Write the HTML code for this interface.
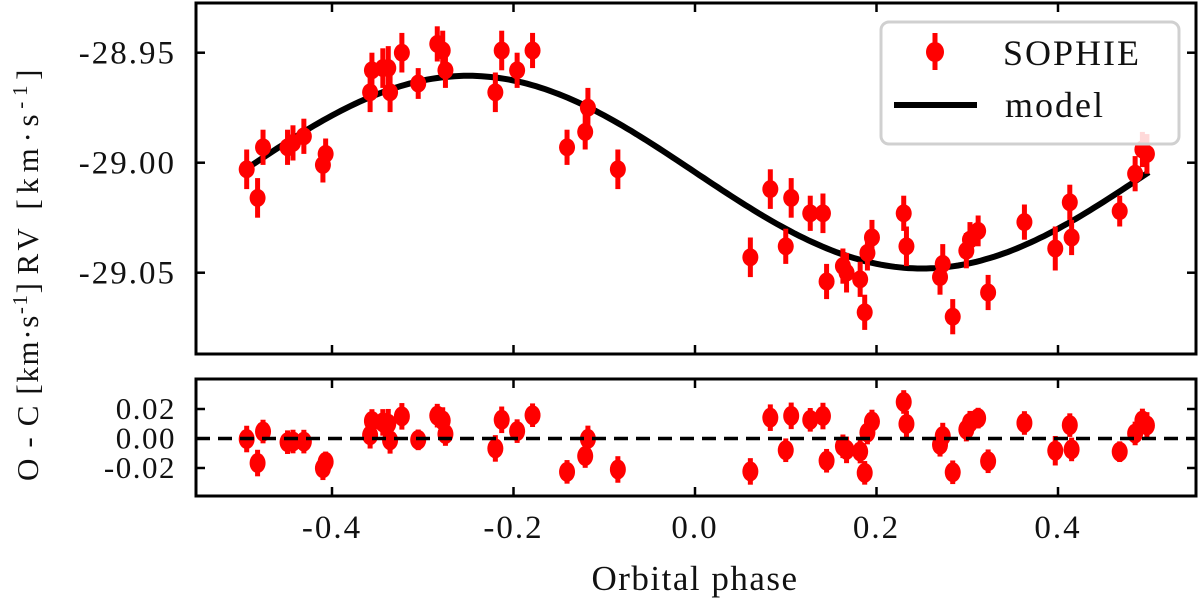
<!DOCTYPE html>
<html><head><meta charset="utf-8"><style>
body{margin:0;background:#fff}
svg{display:block}
text{font-family:"Liberation Serif",serif;fill:#111}
</style></head><body>
<svg id="chart" width="1200" height="604" viewBox="0 0 1200 604" xmlns="http://www.w3.org/2000/svg">
</svg>
<script>
const phases=[-0.494,-0.482,-0.476,-0.449,-0.443,-0.431,-0.410,-0.407,-0.358,-0.356,-0.344,-0.338,-0.336,-0.323,-0.305,-0.284,-0.278,-0.275,-0.220,-0.213,-0.196,-0.179,-0.141,-0.121,-0.118,-0.085,
0.061,0.083,0.100,0.106,0.127,0.141,0.145,0.163,0.167,0.182,0.187,0.190,0.195,0.230,0.233,0.270,0.273,0.284,0.299,0.303,0.312,0.323,0.363,0.397,0.413,0.415,0.468,0.485,0.493,0.498];
const rvValues=[-29.003,-29.016,-28.993,-28.993,-28.991,-28.988,-29.001,-28.996,-28.968,-28.958,-28.957,-28.957,-28.968,-28.950,-28.964,-28.946,-28.949,-28.958,-28.968,-28.949,-28.958,-28.949,-28.993,-28.986,-28.975,-29.003,
-29.043,-29.012,-29.038,-29.016,-29.023,-29.023,-29.054,-29.047,-29.050,-29.053,-29.068,-29.041,-29.034,-29.023,-29.038,-29.052,-29.046,-29.070,-29.040,-29.035,-29.031,-29.059,-29.027,-29.039,-29.018,-29.034,-29.022,-29.005,-28.994,-28.996];
const rvErrors=[0.009,0.009,0.008,0.008,0.008,0.008,0.008,0.007,0.009,0.008,0.009,0.010,0.009,0.009,0.007,0.008,0.009,0.008,0.009,0.009,0.008,0.008,0.008,0.008,0.009,0.009,
0.009,0.009,0.008,0.009,0.008,0.009,0.008,0.008,0.009,0.008,0.008,0.008,0.008,0.008,0.009,0.008,0.009,0.008,0.008,0.008,0.007,0.008,0.008,0.010,0.008,0.008,0.007,0.008,0.008,0.009];
const modelMean=-29.0043, modelK=0.0438;
const xTicks=[-0.4,-0.2,0.0,0.2,0.4];
const xTickLabels=["-0.4","-0.2","0.0","0.2","0.4"];
const yTicks=[-28.95,-29.00,-29.05];
const yTickLabels=["-28.95","-29.00","-29.05"];
const rTicks=[0.02,0.00,-0.02];
const rTickLabels=["0.02","0.00","-0.02"];

const NS="http://www.w3.org/2000/svg";
const svg=document.getElementById('chart');
function mk(tag,attrs,parent){const e=document.createElementNS(NS,tag);for(const k in attrs)e.setAttribute(k,attrs[k]);(parent||svg).appendChild(e);return e;}
const L=196,R=1196,T1=3,B1=354,T2=379,B2=496;
const xS=p=>695+p*907.5;
const yS=v=>162.7-(v+29.0)*2200;
const rS=v=>438.5-v*1475;
const model=p=>modelMean-modelK*Math.sin(2*Math.PI*p);

let d="";for(let i=0;i<=200;i++){const p=-0.5+i/200;d+=(i?"L":"M")+xS(p).toFixed(1)+","+yS(model(p)).toFixed(1);}
const curve=mk('path',{d:d,fill:'none',stroke:'#000','stroke-width':6});



const gTop=mk('g',{});


const gBot=mk('g',{});


phases.forEach((p,i)=>{
  const x=xS(p),v=rvValues[i],e=rvErrors[i];
  const b=mk('line',{x1:x,x2:x,y1:yS(v+e),y2:yS(v-e),stroke:'#f00','stroke-width':5},gTop);
  
  
  const c=mk('ellipse',{cx:x,cy:yS(v),rx:8,ry:9,fill:'#f00'},gTop);
  
  
  const r=v-model(p);
  const b2=mk('line',{x1:x,x2:x,y1:rS(r+e),y2:rS(r-e),stroke:'#f00','stroke-width':5},gBot);
  
  
  const c2=mk('ellipse',{cx:x,cy:rS(r),rx:8,ry:10,fill:'#f00'},gBot);
  
  
});

const z=mk('line',{x1:L,x2:R,y1:rS(0),y2:rS(0),stroke:'#000','stroke-width':3.5,'stroke-dasharray':'14,8'});



const f1=mk('rect',{x:L,y:T1,width:R-L,height:B1-T1,fill:'none',stroke:'#000','stroke-width':3});


const f2=mk('rect',{x:L,y:T2,width:R-L,height:B2-T2,fill:'none',stroke:'#000','stroke-width':3});



xTicks.forEach((t,i)=>{
  const x=xS(t);
  [[T1,1],[B1,-1],[T2,1],[B2,-1]].forEach(([y,s])=>{
    const tk=mk('line',{x1:x,x2:x,y1:y,y2:y+s*9,stroke:'#000','stroke-width':2.5});
    
    
  });
  const lb=mk('text',{x:x,y:538,'text-anchor':'middle','font-size':33,'letter-spacing':2});
  lb.textContent=xTickLabels[i];
  
  
});
yTicks.forEach((t,i)=>{
  const y=yS(t);
  [[L,1],[R,-1]].forEach(([x,s])=>{
    const tk=mk('line',{x1:x,x2:x+s*9,y1:y,y2:y,stroke:'#000','stroke-width':2.5});
    
    
  });
  const lb=mk('text',{x:176,y:y+11,'text-anchor':'end','font-size':33,'letter-spacing':2});
  lb.textContent=yTickLabels[i];
  
  
});
rTicks.forEach((t,i)=>{
  const y=rS(t);
  [[L,1],[R,-1]].forEach(([x,s])=>{
    const tk=mk('line',{x1:x,x2:x+s*9,y1:y,y2:y,stroke:'#000','stroke-width':2.5});
    
    
  });
  const lb=mk('text',{x:176,y:y+10,'text-anchor':'end','font-size':31,'letter-spacing':1.5});
  lb.textContent=rTickLabels[i];
  
  
});

const lg=mk('g',{});


mk('rect',{x:881,y:22,width:298,height:122,rx:8,fill:'rgba(255,255,255,0.85)',stroke:'#d0d0d0','stroke-width':3},lg);
mk('line',{x1:935,x2:935,y1:33,y2:70,stroke:'#f00','stroke-width':5},lg);
mk('ellipse',{cx:935,cy:52,rx:9,ry:10,fill:'#f00'},lg);
mk('line',{x1:894,x2:977,y1:105,y2:105,stroke:'#000','stroke-width':6},lg);
const t1=mk('text',{x:1003,y:65,'font-size':36,'letter-spacing':2},lg);t1.textContent="SOPHIE";


const t2=mk('text',{x:1005,y:117,'font-size':36,'letter-spacing':2},lg);t2.textContent="model";



const xt=mk('text',{x:695,y:590,'text-anchor':'middle','font-size':35,'letter-spacing':1.5});
xt.textContent="Orbital phase";


const yt=mk('text',{x:0,y:0,'text-anchor':'middle','font-size':31,textLength:205,lengthAdjust:'spacing',transform:'translate(38,172) rotate(-90)'});
yt.innerHTML='RV [km·s<tspan dy="-11" font-size="21">-1</tspan><tspan dy="11">]</tspan>';


const rt=mk('text',{x:0,y:0,'text-anchor':'middle','font-size':31,textLength:198,lengthAdjust:'spacing',transform:'translate(38,382) rotate(-90)'});
rt.innerHTML='O - C [km·s<tspan dy="-11" font-size="21">-1</tspan><tspan dy="11">]</tspan>';


</script>
</body></html>
